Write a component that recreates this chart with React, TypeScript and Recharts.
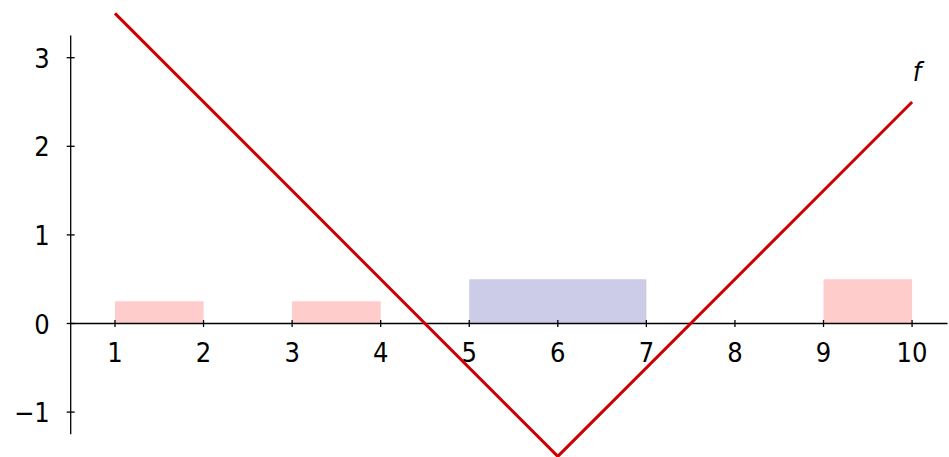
import React from 'react';
import {
  LineChart,
  Line,
  XAxis,
  YAxis,
  ReferenceArea,
  ReferenceLine,
  ReferenceDot
} from 'recharts';

// points of f(x) = |x - 6| - 1.5 where it changes slope
const F_X = [1, 6, 10];
const F_Y = [3.5, -1.5, 2.5];

// shaded intervals under the axis
const BAND_FROM = [1, 3, 5, 9];
const BAND_TO = [2, 4, 7, 10];
const BAND_HEIGHT = [0.25, 0.25, 0.5, 0.5];
const BAND_KIND = ['red', 'red', 'blue', 'red'];

const X_TICKS = [1, 2, 3, 4, 5, 6, 7, 8, 9, 10];
const Y_TICKS = [-1, 0, 1, 2, 3];

const X_DOMAIN = [0.5, 10.4];
const Y_DOMAIN = [-1.5, 3.5];
const Y_AXIS_SPAN = [-1.25, 3.25];

const BAND_COLORS: Record<string, string> = {
  red: '#ffcccc',
  blue: '#cccce8',
};

const LINE_COLOR = '#cc0000';
const FONT = '"DejaVu Sans Condensed", "DejaVu Sans", sans-serif';
const FONT_SIZE = 27;

const fmt = (v: number) => String(v).replace('-', '\u2212');

// tick label under an x tick mark
const xTickLabel = (text: string) => (props: any) => {
  const vb = props.viewBox || {};
  return (
    <text
      x={vb.x}
      y={vb.y + vb.height + 34.5}
      textAnchor="middle"
      fontFamily={FONT}
      fontSize={FONT_SIZE}
      fill="#000"
    >
      {text}
    </text>
  );
};

// tick label left of a y tick mark
const yTickLabel = (text: string) => (props: any) => {
  const vb = props.viewBox || {};
  return (
    <text
      x={vb.x - 17}
      y={vb.y + 10}
      textAnchor="end"
      fontFamily={FONT}
      fontSize={FONT_SIZE}
      fill="#000"
    >
      {text}
    </text>
  );
};

const curveLabel = (props: any) => {
  const vb = props.viewBox || {};
  return (
    <text
      x={vb.x + 5}
      y={vb.y - 21}
      textAnchor="middle"
      fontFamily={FONT}
      fontSize={FONT_SIZE}
      fontStyle="italic"
      fill="#000"
    >
      f
    </text>
  );
};

export default function App() {
  const data = F_X.map((x, i) => ({ x, f: F_Y[i] }));
  const axisX0 = X_DOMAIN[0];

  return (
    <div style={{ position: 'absolute', left: 0, top: 0, fontFamily: FONT }}>
      <LineChart
        width={949}
        height={457}
        data={data}
        margin={{ top: 13.4, right: 1.5, bottom: 0.6, left: 70.7 }}
      >
        <XAxis dataKey="x" type="number" domain={X_DOMAIN} hide />
        <YAxis type="number" domain={Y_DOMAIN} hide />

        {BAND_FROM.map((from, i) => (
          <ReferenceArea
            key={'band' + i}
            x1={from}
            x2={BAND_TO[i]}
            y1={0}
            y2={BAND_HEIGHT[i]}
            fill={BAND_COLORS[BAND_KIND[i]]}
            fillOpacity={1}
            stroke="none"
          />
        ))}

        {/* x axis through y = 0 */}
        <ReferenceLine
          segment={[{ x: X_DOMAIN[0], y: 0 }, { x: X_DOMAIN[1], y: 0 }]}
          stroke="#000"
          strokeWidth={1.3}
          ifOverflow="visible"
        />
        {/* y axis */}
        <ReferenceLine
          segment={[{ x: axisX0, y: Y_AXIS_SPAN[0] }, { x: axisX0, y: Y_AXIS_SPAN[1] }]}
          stroke="#000"
          strokeWidth={1.3}
          ifOverflow="visible"
        />

        {X_TICKS.map((t) => (
          <ReferenceLine
            key={'xt' + t}
            segment={[{ x: t, y: -0.04 }, { x: t, y: 0.04 }]}
            stroke="#000"
            strokeWidth={1.3}
            ifOverflow="visible"
            label={xTickLabel(fmt(t))}
          />
        ))}
        {Y_TICKS.map((t) => (
          <ReferenceLine
            key={'yt' + t}
            segment={[{ x: axisX0 - 0.045, y: t }, { x: axisX0 + 0.045, y: t }]}
            stroke="#000"
            strokeWidth={1.3}
            ifOverflow="visible"
            label={yTickLabel(fmt(t))}
          />
        ))}

        <Line
          type="linear"
          dataKey="f"
          stroke={LINE_COLOR}
          strokeWidth={3}
          dot={false}
          activeDot={false}
          isAnimationActive={false}
        />

        <ReferenceDot
          x={F_X[F_X.length - 1]}
          y={F_Y[F_Y.length - 1]}
          r={0}
          fill="none"
          stroke="none"
          ifOverflow="visible"
          label={curveLabel}
        />
      </LineChart>
    </div>
  );
}
